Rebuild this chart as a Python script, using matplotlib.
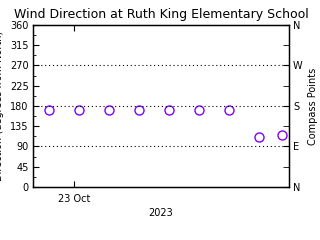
import datetime as dt
import matplotlib
matplotlib.use('Agg')
import matplotlib.pyplot as plt
import matplotlib.dates as mdates
from matplotlib.ticker import MultipleLocator, FixedLocator

# hours relative to 23 Oct 2023 00:00
hours = [-2.5, 0.5, 3.5, 6.5, 9.5, 12.5, 15.5, 18.5, 20.8]
direction = [170, 170, 170, 170, 170, 170, 170, 110, 116]
compass_vals = [0, 90, 180, 270, 360]
compass_labels = ['N', 'E', 'S', 'W', 'N']

t0 = dt.datetime(2023, 10, 23)
times = [t0 + dt.timedelta(hours=h) for h in hours]
xmin = t0 + dt.timedelta(hours=-4.1)
xmax = t0 + dt.timedelta(hours=21.5)

plt.rcParams['font.family'] = 'DejaVu Sans'
fig = plt.figure(figsize=(3.2, 2.4), dpi=100)
fig.patch.set_facecolor('white')
ax = fig.add_axes([0.103, 0.221, 0.8, 0.675])

ax.plot(times, direction, ls='None', marker='o', ms=6.5, mfc='none',
        mec='#8000ff', mew=1.0, clip_on=False)

for yv in [90, 180, 270]:
    ax.axhline(yv, color='black', ls=(0, (1, 2.5)), lw=0.8)

ax.set_xlim(xmin, xmax)
ax.set_ylim(0, 360)
ax.yaxis.set_major_locator(MultipleLocator(45))
ax.yaxis.set_minor_locator(MultipleLocator(22.5))
ax.xaxis.set_major_locator(mdates.DayLocator())
ax.xaxis.set_major_formatter(mdates.DateFormatter('%d %b'))
ax.tick_params(axis='both', which='major', direction='in', length=4,
               labelsize=7, top=True, pad=3)
ax.tick_params(axis='y', which='minor', direction='in', length=2)
ax.tick_params(axis='x', pad=5)
for s in ax.spines.values():
    s.set_linewidth(1.0)

ax.set_xlabel('2023', fontsize=7, labelpad=3)
ax.set_ylabel('Direction (degrees from North)', fontsize=7)
ax.yaxis.set_label_coords(-0.113, 0.5)
ax.set_title('Wind Direction at Ruth King Elementary School', fontsize=9, pad=5)

ax2 = ax.twinx()
ax2.set_ylim(0, 360)
ax2.yaxis.set_major_locator(FixedLocator(compass_vals))
ax2.set_yticklabels(compass_labels)
ax2.yaxis.set_minor_locator(MultipleLocator(45))
ax2.tick_params(axis='y', which='major', direction='in', length=4,
                labelsize=7, pad=3)
ax2.tick_params(axis='y', which='minor', direction='in', length=4)
ax2.set_ylabel('Compass Points', fontsize=7, labelpad=4)

fig.savefig('out.png', dpi=100)
